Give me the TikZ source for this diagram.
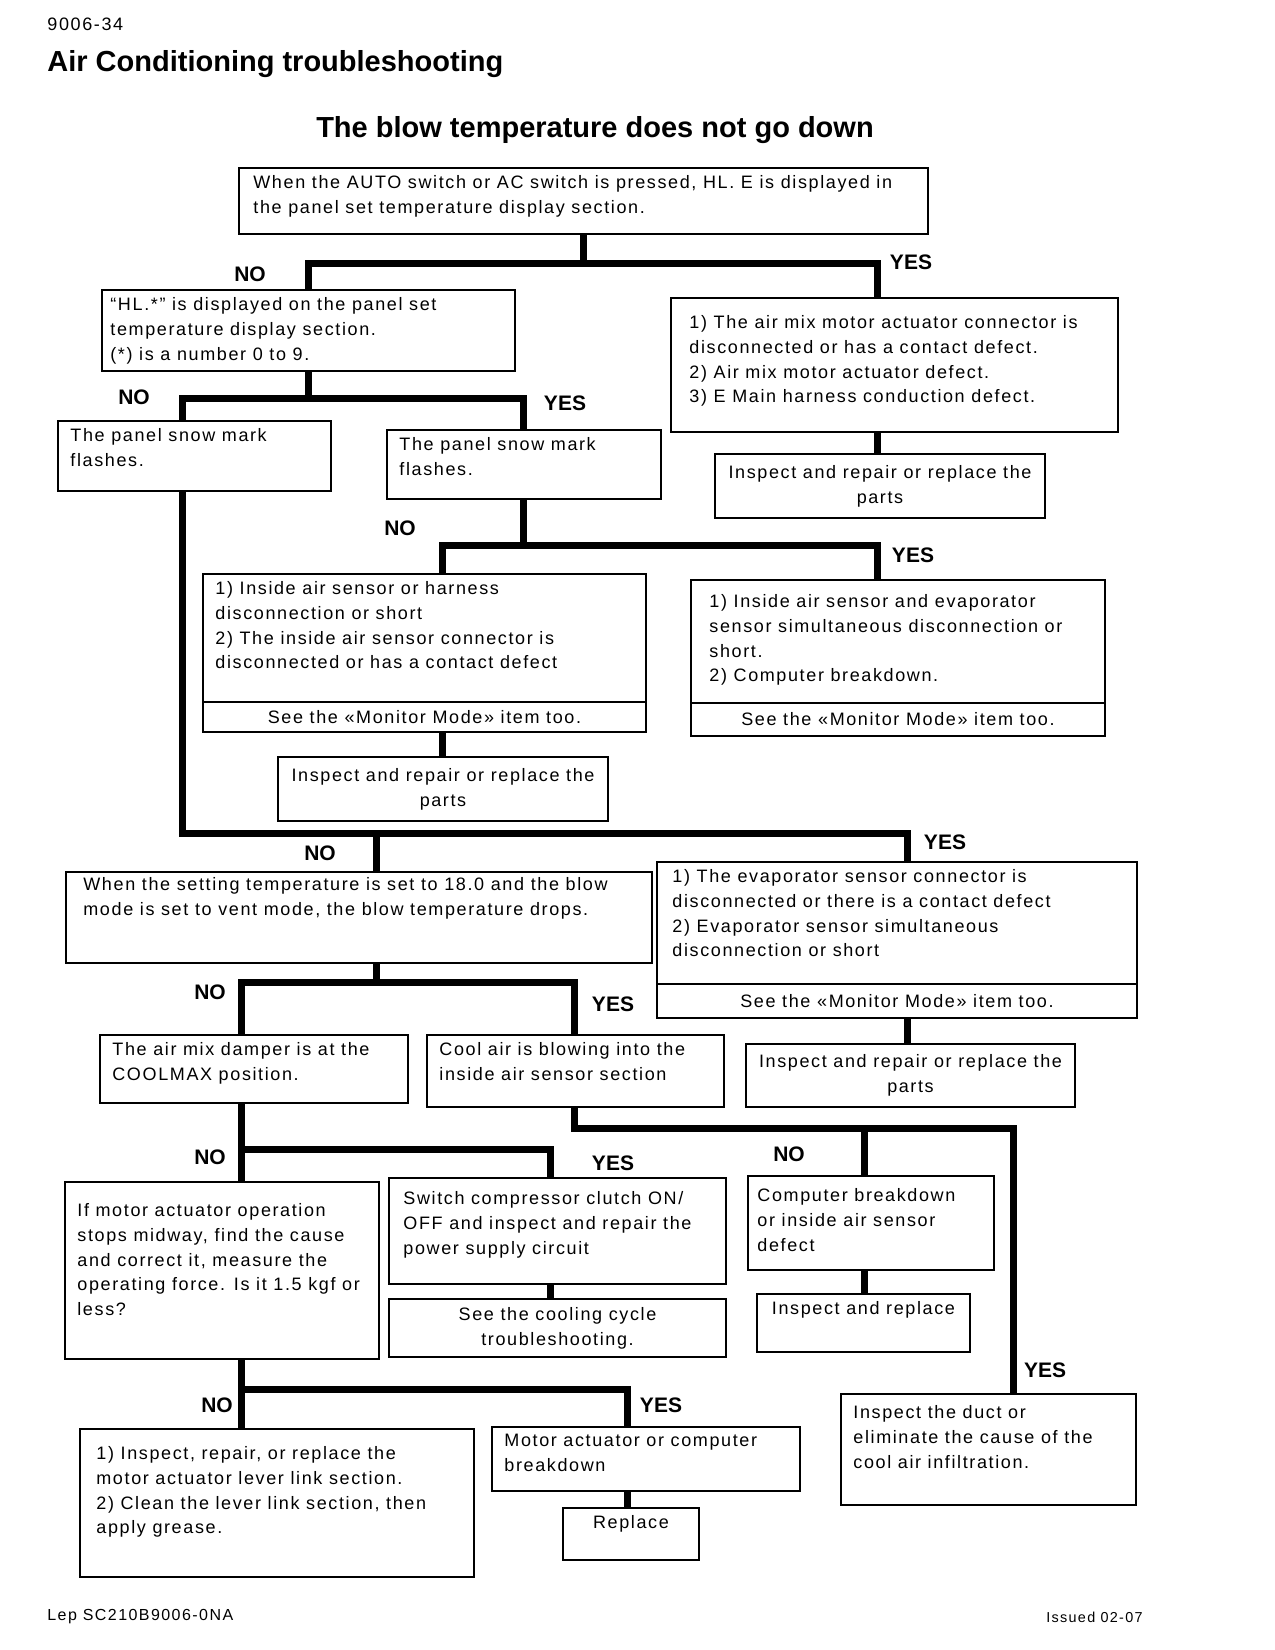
\documentclass[tikz,border=0pt]{standalone}
\usepackage{fontspec}
\setmainfont{Liberation Sans}
\newfontfamily\trackfont{Liberation Sans}[LetterSpace=9.0]

\tikzset{
  box/.style 2 args={draw, line width=1.2pt, anchor=north west, inner sep=0pt, outer sep=0pt,
    minimum width=#1, minimum height=#2, align=center, font=\trackfont\fontsize{9}{12.4}\selectfont},
  txt/.style={anchor=north west, align=left, inner xsep=6pt, inner ysep=3.5pt,
    font=\trackfont\fontsize{9}{12.4}\selectfont},
  link/.style={line width=3.5pt},
  bar/.style={line width=3.5pt, line cap=rect},
  yn/.style={font=\bfseries\fontsize{10.5}{12}\selectfont},
  head/.style={inner sep=0pt},
}

\begin{document}
\begin{tikzpicture}[x={(0.5pt,0)}, y={(0,-0.5pt)}, label distance=0pt]
  \useasboundingbox (0,0) rectangle (1275,1650);

  % Page head
  \node[head, anchor=west, font=\trackfont\fontsize{9}{11}\selectfont] (page) at (47,24) {9006-34};
  \node[head, anchor=west, font=\bfseries\fontsize{14.5}{17}\selectfont] (title) at (47,64) {Air Conditioning troubleshooting};
  \node[head, font=\bfseries\fontsize{14.5}{17}\selectfont] (subtitle) at (595,130) {The blow temperature does not go down};

  % Boxes
  \node[box={344.5pt}{33pt}, label={[txt, xshift=1pt]north west:{When the AUTO switch or AC switch is pressed, HL. E is displayed in\\the panel set temperature display section.}}] (b1) at (239,168) {};
  \node[box={206.5pt}{40.5pt}, label={[txt, xshift=-2pt]north west:{“HL.*” is displayed on the panel set\\temperature display section.\\(*) is a number 0 to 9.}}] (b2) at (102,290) {};
  \node[box={223.5pt}{67pt}, label={[txt, xshift=3pt, yshift=-5pt]north west:{1) The air mix motor actuator connector is\\disconnected or has a contact defect.\\2) Air mix motor actuator defect.\\3) E Main harness conduction defect.}}] (b3) at (671,298) {};
  \node[box={165pt}{32pt}] (b4) at (715,454) {Inspect and repair or replace the\\parts};
  \node[box={136.5pt}{35pt}, label={[txt]north west:{The panel snow mark\\flashes.}}] (b5) at (58,421) {};
  \node[box={137pt}{34.5pt}, label={[txt]north west:{The panel snow mark\\flashes.}}] (b6) at (387,430) {};
  \node[box={221.5pt}{64pt}, label={[txt]north west:{1) Inside air sensor or harness\\disconnection or short\\2) The inside air sensor connector is\\disconnected or has a contact defect}}] (b7) at (203,574) {};
  \node[box={221.5pt}{15pt}] (b7m) at (b7.south west) {See the «Monitor Mode» item too.};
  \node[box={207pt}{61.5pt}, label={[txt, xshift=3pt, yshift=-3.5pt]north west:{1) Inside air sensor and evaporator\\sensor simultaneous disconnection or\\short.\\2) Computer breakdown.}}] (b8) at (691,580) {};
  \node[box={207pt}{16.5pt}] (b8m) at (b8.south west) {See the «Monitor Mode» item too.};
  \node[box={165pt}{32pt}] (b9) at (278,757) {Inspect and repair or replace the\\parts};
  \node[box={293pt}{45.5pt}, label={[txt, xshift=2.5pt, yshift=1pt]north west:{When the setting temperature is set to 18.0 and the blow\\mode is set to vent mode, the blow temperature drops.}}] (b10) at (66,872) {};
  \node[box={240pt}{61pt}, label={[txt, xshift=1.5pt]north west:{1) The evaporator sensor connector is\\disconnected or there is a contact defect\\2) Evaporator sensor simultaneous\\disconnection or short}}] (b11) at (657,862) {};
  \node[box={240pt}{17pt}] (b11m) at (b11.south west) {See the «Monitor Mode» item too.};
  \node[box={164.5pt}{31.5pt}] (b12) at (746,1044) {Inspect and repair or replace the\\parts};
  \node[box={154pt}{34pt}, label={[txt]north west:{The air mix damper is at the\\COOLMAX position.}}] (b13) at (100,1035) {};
  \node[box={148.5pt}{36pt}, label={[txt]north west:{Cool air is blowing into the\\inside air sensor section}}] (b14) at (427,1035) {};
  \node[box={157pt}{88.5pt}, label={[txt, yshift=-7pt]north west:{If motor actuator operation\\stops midway, find the cause\\and correct it, measure the\\operating force. Is it 1.5 kgf or\\less?}}] (b15) at (65,1182) {};
  \node[box={168.5pt}{53pt}, label={[txt, xshift=1pt, yshift=-3pt]north west:{Switch compressor clutch ON/\\OFF and inspect and repair the\\power supply circuit}}] (b16) at (389,1178) {};
  \node[box={168.5pt}{29pt}] (b17) at (389,1299) {See the cooling cycle\\troubleshooting.};
  \node[box={123pt}{47pt}, label={[txt, xshift=-1.5pt, yshift=-2.5pt]north west:{Computer breakdown\\or inside air sensor\\defect}}] (b18) at (748,1176) {};
  \node[box={106.5pt}{29pt}, label={[txt, anchor=north]north:{Inspect and replace}}] (b19) at (757,1294) {};
  \node[box={147.5pt}{55.5pt}, label={[txt, yshift=-2pt]north west:{Inspect the duct or\\eliminate the cause of the\\cool air infiltration.}}] (b20) at (841,1394) {};
  \node[box={197pt}{74pt}, label={[txt, xshift=2pt, yshift=-5pt]north west:{1) Inspect, repair, or replace the\\motor actuator lever link section.\\2) Clean the lever link section, then\\apply grease.}}] (b21) at (80,1429) {};
  \node[box={154pt}{32pt}, label={[txt]north west:{Motor actuator or computer\\breakdown}}] (b22) at (492,1427) {};
  \node[box={68pt}{26pt}, label={[txt, anchor=north]north:{Replace}}] (b23) at (563,1508) {};

  % Branch points
  \coordinate (n1) at (308,263);  \coordinate (y1) at (877,263);
  \coordinate (n2) at (182,398);  \coordinate (y2) at (523,398);
  \coordinate (n3) at (442,545);  \coordinate (y3) at (877,545);
  \coordinate (n4) at (376,833);  \coordinate (y4) at (907,833);
  \coordinate (n5) at (241,982);  \coordinate (y5) at (574,982);
  \coordinate (n6) at (241,1149); \coordinate (y6) at (550,1149);
  \coordinate (n7) at (864,1128); \coordinate (y7) at (1013,1128);
  \coordinate (n8) at (241,1389); \coordinate (y8) at (627,1389);

  % Draw flow lines
  \draw[link] (b1) -- (b1 |- n1);
  \draw[bar] (n1) -- (y1);
  \draw[link] (n1) -- (n1 |- b2.north);
  \draw[link] (y1) -- (y1 |- b3.north);
  \draw[link] (y1 |- b3.south) -- (y1 |- b4.north);

  \draw[link] (n1 |- b2.south) -- (n1 |- n2);
  \draw[bar] (n2) -- (y2);
  \draw[link] (n2) -- (n2 |- b5.north);
  \draw[link] (y2) -- (y2 |- b6.north);

  \draw[link] (y2 |- b6.south) -- (y2 |- n3);
  \draw[bar] (n3) -- (y3);
  \draw[link] (n3) -- (n3 |- b7.north);
  \draw[link] (y3) -- (y3 |- b8.north);
  \draw[link] (n3 |- b7m.south) -- (n3 |- b9.north);

  \draw[link] (n2 |- b5.south) -- (n2 |- n4);
  \draw[bar] (n2 |- n4) -- (y4);
  \draw[link] (n4) -- (n4 |- b10.north);
  \draw[link] (y4) -- (y4 |- b11.north);
  \draw[link] (y4 |- b11m.south) -- (y4 |- b12.north);

  \draw[link] (n4 |- b10.south) -- (n4 |- n5);
  \draw[bar] (n5) -- (y5);
  \draw[link] (n5) -- (n5 |- b13.north);
  \draw[link] (y5) -- (y5 |- b14.north);

  \draw[link] (n5 |- b13.south) -- (n6);
  \draw[bar] (n6) -- (y6);
  \draw[link] (n6) -- (n6 |- b15.north);
  \draw[link] (y6) -- (y6 |- b16.north);
  \draw[link] (y6 |- b16.south) -- (y6 |- b17.north);

  \draw[link] (y5 |- b14.south) -- (y5 |- n7);
  \draw[bar] (y5 |- n7) -- (y7);
  \draw[link] (n7) -- (n7 |- b18.north);
  \draw[link] (n7 |- b18.south) -- (n7 |- b19.north);
  \draw[link] (y7) -- (y7 |- b20.north);

  \draw[link] (n6 |- b15.south) -- (n8);
  \draw[bar] (n8) -- (y8);
  \draw[link] (n8) -- (n8 |- b21.north);
  \draw[link] (y8) -- (y8 |- b22.north);
  \draw[link] (y8 |- b22.south) -- (y8 |- b23.north);

  % Draw answers
  \foreach \n/\p/\t in {no1/{250,274}/NO, yes1/{911,262}/YES, no2/{134,397}/NO, yes2/{565,403}/YES,
      no3/{400,528}/NO, yes3/{913,555}/YES, no4/{320,853}/NO, yes4/{945,842}/YES,
      no5/{210,992}/NO, yes5/{613,1004}/YES, no6/{210,1157}/NO, yes6/{613,1163}/YES,
      no7/{789,1154}/NO, yes7/{1045,1370}/YES, no8/{217,1405}/NO, yes8/{661,1405}/YES}{
    \node[yn] (\n) at (\p) {\t};
  }

  % Page foot
  \node[head, anchor=west, font=\trackfont\fontsize{8}{10}\selectfont] (code) at (47,1617) {Lep SC210B9006-0NA};
  \node[head, anchor=east, font=\trackfont\fontsize{7.2}{9}\selectfont] (issued) at (1143,1617) {Issued 02-07};
\end{tikzpicture}
\end{document}
